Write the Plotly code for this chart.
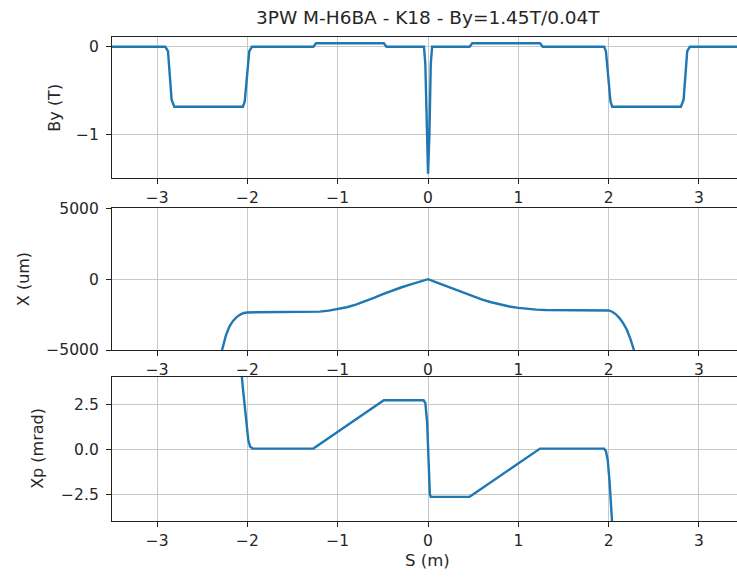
import plotly.graph_objects as go

# ---------------- data ----------------
title_text = "3PW M-H6BA - K18 - By=1.45T/0.04T"

s_by = [-3.5, -2.91, -2.88, -2.86, -2.84, -2.81, -2.05, -2.03, -2.00, -1.98, -1.95,
        -1.27, -1.24, -0.49, -0.46, -0.045, -0.03, -0.015, 0.0, 0.015, 0.03, 0.045,
        0.46, 0.49, 1.24, 1.27, 1.95, 1.97, 1.99, 2.02, 2.04, 2.80, 2.83, 2.85, 2.87, 2.90, 3.5]
by_vals = [0, 0, -0.05, -0.3, -0.6, -0.68, -0.68, -0.62, -0.3, -0.05, 0,
           0, 0.04, 0.04, 0, 0, -0.2, -1.0, -1.44, -1.0, -0.2, 0,
           0, 0.04, 0.04, 0, 0, -0.05, -0.3, -0.62, -0.68, -0.68, -0.6, -0.3, -0.05, 0, 0]

s_x = [-2.33, -2.28, -2.24, -2.2, -2.16, -2.12, -2.08, -2.04, -2.0, -1.9, -1.6, -1.3, -1.2,
       -1.1, -1.0, -0.9, -0.8, -0.7, -0.6, -0.5, -0.4, -0.3, -0.2, -0.1, 0.0,
       0.1, 0.2, 0.3, 0.4, 0.5, 0.6, 0.7, 0.8, 0.9, 1.0, 1.1, 1.2, 1.3, 1.6, 1.9,
       2.0, 2.04, 2.08, 2.12, 2.16, 2.2, 2.24, 2.28, 2.33]
x_vals = [-6200, -5000, -4000, -3350, -2950, -2680, -2500, -2390, -2350, -2340, -2340, -2320, -2290,
          -2220, -2120, -1980, -1800, -1580, -1320, -1060, -810, -590, -390, -195, 0,
          -240, -490, -740, -990, -1220, -1440, -1630, -1800, -1930, -2030, -2100, -2150, -2180, -2190, -2190,
          -2210, -2300, -2480, -2750, -3100, -3550, -4200, -5000, -6200]

s_xp = [-2.08, -2.07, -2.05, -2.03, -2.01, -1.99, -1.97, -1.94, -1.27, -0.49, -0.05, -0.03,
        -0.01, 0.0, 0.01, 0.02, 0.03, 0.46, 1.24, 1.95, 1.97, 1.99, 2.01, 2.03, 2.05]
xp_vals = [5.5, 4.5, 3.4, 2.3, 1.2, 0.5, 0.15, 0.05, 0.05, 2.75, 2.75, 2.6,
           1.5, 0.0, -1.4, -2.5, -2.65, -2.65, 0.05, 0.05, -0.1, -0.6, -1.8, -3.4, -5.0]

x_ticks = [-3, -2, -1, 0, 1, 2, 3]
by_ticks = [0, -1]
x_um_ticks = [5000, 0, -5000]
xp_ticks = [2.5, 0.0, -2.5]

# ---------------- layout helpers ----------------
W, H = 737, 581
L = 112
PW = W - L
FONT = "DejaVu Sans"
TXT = "#262626"
LINE = "#1f77b4"
GRID = "#c8c8c8"

def ydom(top_px, bot_px):
    return [1 - bot_px / H, 1 - top_px / H]

panels = [
    (37.3, 178.0),
    (208.3, 350.0),
    (376.7, 521.0),
]

fig = go.Figure()
series = [(s_by, by_vals), (s_x, x_vals), (s_xp, xp_vals)]
for i, (sx, sy) in enumerate(series):
    suf = "" if i == 0 else str(i + 1)
    fig.add_trace(go.Scatter(x=sx, y=sy, mode="lines",
                             line=dict(color=LINE, width=2.4),
                             xaxis="x" + suf, yaxis="y" + suf,
                             showlegend=False, hoverinfo="skip"))

xrange_ = [-3.5, -3.5 + PW / 90.3]
yranges = [[-1.49, 0.108], [-5000, 5000], [-4.0, 4.07]]
yticks = [by_ticks, x_um_ticks, xp_ticks]
yfmt = ["", "", ".1f"]

layout = dict(
    width=W, height=H,
    margin=dict(l=L, r=0, t=0, b=0, autoexpand=False),
    paper_bgcolor="white", plot_bgcolor="white",
    font=dict(family=FONT, size=15, color=TXT),
)

for i, (top, bot) in enumerate(panels):
    suf = "" if i == 0 else str(i + 1)
    layout["xaxis" + suf] = dict(
        domain=[0, 1], anchor="y" + suf, range=xrange_,
        tickvals=x_ticks, ticks="outside", ticklen=5, tickwidth=1.2, tickcolor="#222",
        showline=True, linecolor="#222", linewidth=1.3, mirror=True,
        showgrid=True, gridcolor=GRID, gridwidth=1, zeroline=False,
        tickfont=dict(family=FONT, size=15.5, color=TXT), automargin=False,
    )
    layout["yaxis" + suf] = dict(
        domain=ydom(top, bot), anchor="x" + suf, range=yranges[i],
        tickvals=yticks[i], tickformat=yfmt[i], ticks="outside", ticklen=5, tickwidth=1.2,
        tickcolor="#222", showline=True, linecolor="#222", linewidth=1.3, mirror=False,
        showgrid=True, gridcolor=GRID, gridwidth=1, zeroline=False,
        tickfont=dict(family=FONT, size=15.5, color=TXT), ticklabelstandoff=4, automargin=False,
    )

fig.update_layout(**layout)

# title as annotation
fig.add_annotation(text=title_text, xref="paper", yref="paper",
                   x=(427.5 - L) / PW, y=1 - 18 / H, xanchor="center", yanchor="middle",
                   showarrow=False, font=dict(family=FONT, size=18.5, color=TXT))

# y-axis labels and x label as annotations
ylabels = [("By (T)", 55), ("X (um)", 23), ("Xp (mrad)", 38)]
for (txt, px), (top, bot) in zip(ylabels, panels):
    fig.add_annotation(text=txt, textangle=-90, xref="paper", yref="paper",
                       x=(px - L) / PW, y=1 - ((top + bot) / 2) / H,
                       xanchor="center", yanchor="middle", showarrow=False,
                       font=dict(family=FONT, size=16, color=TXT))
fig.add_annotation(text="S (m)", xref="paper", yref="paper",
                   x=(427 - L) / PW, y=1 - 560 / H, xanchor="center", yanchor="middle",
                   showarrow=False, font=dict(family=FONT, size=16.5, color=TXT))

fig.write_html("out.html")
